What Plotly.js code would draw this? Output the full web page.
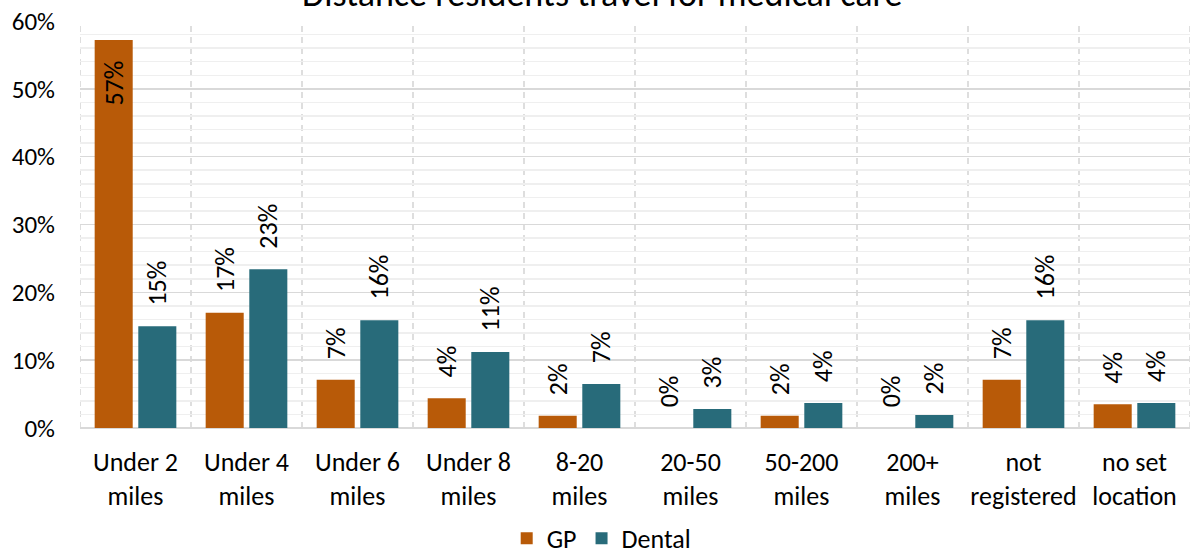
<!DOCTYPE html>
<html>
<head>
<meta charset="utf-8">
<script src="https://cdn.plot.ly/plotly-3.0.1.min.js"></script>
<style>html,body{margin:0;padding:0;background:#fff;}#chart{width:1190px;height:555px;}</style>
</head>
<body>
<div id="chart"></div>
<script>
const categories = ["Under 2<br>miles","Under 4<br>miles","Under 6<br>miles","Under 8<br>miles","8-20<br>miles","20-50<br>miles","50-200<br>miles","200+<br>miles","not<br>registered","no set<br>location"];
const gpValues = [57.2, 17.0, 7.1, 4.4, 1.8, 0.0, 1.8, 0.0, 7.1, 3.5];
const dentalValues = [15.0, 23.4, 15.9, 11.2, 6.5, 2.8, 3.7, 1.9, 15.9, 3.7];
const seriesNames = ["GP", "Dental"];
const chartTitle = "Distance residents travel for medical care";

const FONT = "Carlito, 'Open Sans', 'Noto Sans', sans-serif";
const colors = ["#B85A08", "#286B7A"];
const yMax = 60;
const NB = "\u00A0\u00A0\u00A0";

function posFor(vals){ return vals.map(v => (v > yMax - 8 ? "inside" : "outside")); }

const traces = [gpValues, dentalValues].map((vals, i) => ({
  type: "bar",
  name: seriesNames[i],
  x: categories,
  y: vals,
  marker: {color: colors[i]},
  texttemplate: NB + "%{y:.0f}%" + NB,
  textposition: posFor(vals),
  insidetextanchor: "end",
  textangle: -90,
  textfont: {family: FONT, size: 26, color: "#000"},
  insidetextfont: {family: FONT, size: 26, color: "#000"},
  outsidetextfont: {family: FONT, size: 26, color: "#000"},
  cliponaxis: false,
  constraintext: "none",
  hoverinfo: "skip"
}));

const shapes = [];
for (let i = 0; i <= categories.length; i++) {
  shapes.push({
    type: "line", xref: "x", yref: "paper",
    x0: i - 0.5, x1: i - 0.5, y0: 0, y1: 1,
    line: {color: "#d4d4d4", width: 1.5, dash: "6px,5px"},
    layer: "below"
  });
}

const layout = {
  width: 1190, height: 555,
  margin: {l: 80, r: 0, t: 21, b: 127},
  paper_bgcolor: "#fff", plot_bgcolor: "#fff",
  font: {family: FONT, size: 26, color: "#000"},
  annotations: [{
    text: chartTitle, xref: "paper", yref: "paper", x: 0.47, y: 1, xanchor: "center", yanchor: "middle",
    yshift: 27, showarrow: false, font: {family: FONT, size: 36, color: "#000"}
  }],
  barmode: "group",
  bargap: 0.214,
  bargroupgap: 0.128,
  showlegend: true,
  legend: {orientation: "h", x: 0.47, xanchor: "center", yref: "container", y: 0.03, yanchor: "middle", font: {family: FONT, size: 26}, traceorder: "normal", tracegroupgap: 0},
  xaxis: {
    type: "category", automargin: false,
    range: [-0.5, categories.length - 0.5],
    showgrid: false, zeroline: false, showline: false,
    ticks: "outside", ticklen: 11, tickcolor: "rgba(0,0,0,0)",
    tickfont: {family: FONT, size: 26, color: "#000"}
  },
  yaxis: {
    automargin: false,
    range: [0, yMax], dtick: 10, ticksuffix: "%",
    showgrid: true, gridcolor: "#d9d9d9", gridwidth: 1.5,
    zeroline: true, zerolinecolor: "#d9d9d9", zerolinewidth: 1.5,
    showline: false, ticks: "", ticklabelstandoff: 24,
    tickfont: {family: FONT, size: 25, color: "#000"},
    minor: {dtick: 2, showgrid: true, gridcolor: "#efefef", gridwidth: 1.5}
  },
  shapes: shapes
};

Plotly.newPlot("chart", traces, layout, {staticPlot: true, displayModeBar: false});
</script>
</body>
</html>
